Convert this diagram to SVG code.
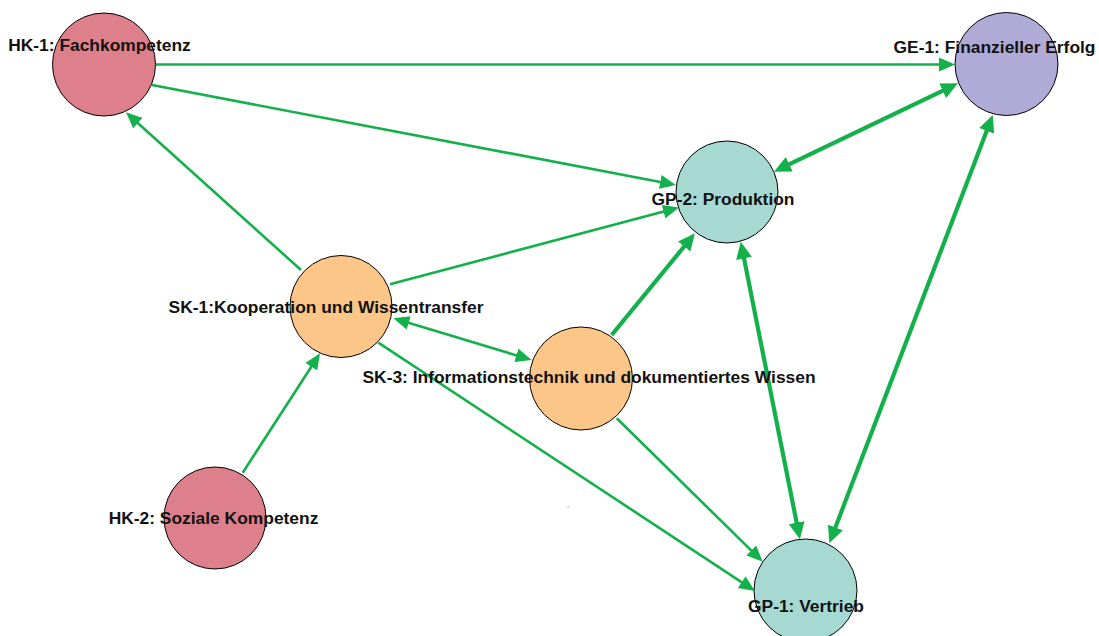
<svg xmlns="http://www.w3.org/2000/svg" width="1099" height="636" viewBox="0 0 1099 636">
<style>
.e{fill:none;stroke:#14b04c;stroke-width:2.6}
.t{stroke-width:4.2}
.n{stroke:#000;stroke-width:1}
.hk{fill:#dd808b}
.ge{fill:#b0aad6}
.gp{fill:#a6d9d1}
.sk{fill:#fcc688}
text{font-family:"Liberation Sans",Arial,sans-serif;font-weight:bold;font-size:17.4px;fill:#111;text-anchor:middle}
</style>
<defs>
<marker id="a" markerUnits="userSpaceOnUse" markerWidth="17" markerHeight="14" refX="8" refY="7" orient="auto-start-reverse">
<path d="M0,0 L16,7 L0,14 z" fill="#14b04c"/>
</marker>
<marker id="b" markerUnits="userSpaceOnUse" markerWidth="18" markerHeight="16" refX="9" refY="8" orient="auto-start-reverse">
<path d="M0,0 L17,8 L0,16 z" fill="#14b04c"/>
</marker>
</defs>
<rect width="1099" height="636" fill="#fff"/>
<g id="connectors">
<line class="e" x1="156" y1="64.5" x2="947" y2="64.5" marker-end="url(#a)"/>
<line class="e" x1="152" y1="85" x2="668.1" y2="183.5" marker-end="url(#a)"/>
<line class="e" x1="301" y1="270" x2="131.9" y2="117.7" marker-end="url(#a)"/>
<line class="e" x1="390" y1="284.3" x2="671.3" y2="209.6" marker-end="url(#a)"/>
<line class="e" x1="401" y1="320.6" x2="524" y2="357.7" marker-start="url(#a)" marker-end="url(#a)"/>
<line class="e" x1="378.3" y1="342.7" x2="748.3" y2="586.6" marker-end="url(#a)"/>
<line class="e" x1="242.7" y1="472.7" x2="315.7" y2="360" marker-end="url(#a)"/>
<line class="e t" x1="611.7" y1="335" x2="689.9" y2="239.5" marker-end="url(#b)"/>
<line class="e" x1="616.7" y1="418.3" x2="757" y2="556.1" marker-end="url(#a)"/>
<line class="e t" x1="781.2" y1="168.2" x2="950.8" y2="86.8" marker-start="url(#b)" marker-end="url(#b)"/>
<line class="e t" x1="742.3" y1="249.6" x2="798.4" y2="531.5" marker-start="url(#b)" marker-end="url(#b)"/>
<line class="e t" x1="989.9" y1="122.5" x2="832.2" y2="535.8" marker-start="url(#b)" marker-end="url(#b)"/>
</g>
<g id="HK-1"><circle class="n hk" cx="104" cy="64.5" r="51.5"/><text x="99.5" y="51">HK-1: Fachkompetenz</text></g>
<g id="GE-1"><circle class="n ge" cx="1006.5" cy="64" r="51.5"/><text x="994.5" y="53">GE-1: Finanzieller Erfolg</text></g>
<g id="GP-2"><circle class="n gp" cx="727" cy="192" r="51"/><text x="723" y="205">GP-2: Produktion</text></g>
<g id="SK-1"><circle class="n sk" cx="341" cy="306.5" r="51"/><text x="326" y="312.5">SK-1:Kooperation und Wissentransfer</text></g>
<g id="SK-3"><circle class="n sk" cx="581" cy="378.5" r="51.5"/><text x="589" y="383">SK-3: Informationstechnik und dokumentiertes Wissen</text></g>
<g id="HK-2"><circle class="n hk" cx="215" cy="518" r="51"/><text x="213.5" y="524">HK-2: Soziale Kompetenz</text></g>
<g id="GP-1"><circle class="n gp" cx="805.5" cy="590.5" r="51.5"/><text x="806" y="611.5">GP-1: Vertrieb</text></g>
<rect x="567.5" y="506.5" width="1.2" height="1.2" fill="#999"/>
</svg>
